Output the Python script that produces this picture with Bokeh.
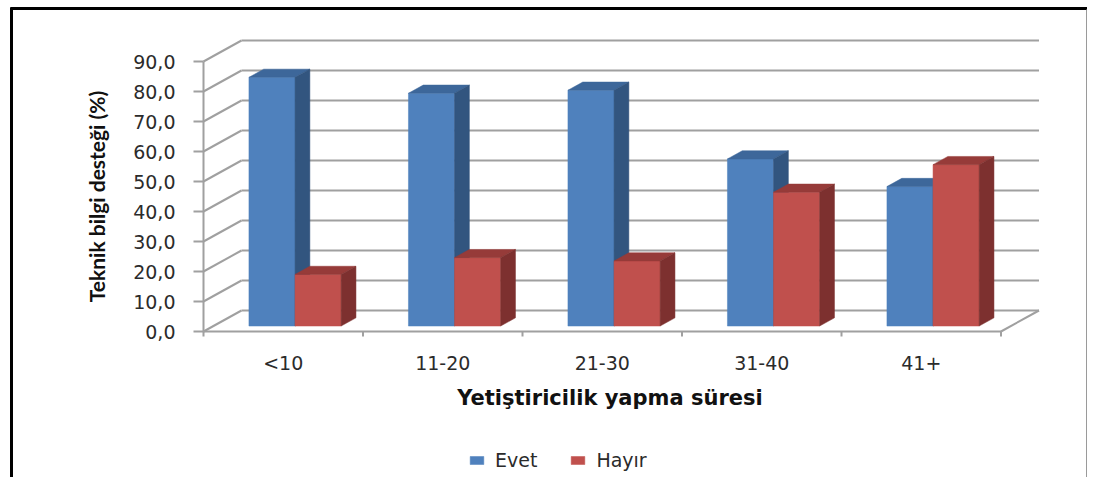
import math
from bokeh.plotting import figure
from bokeh.models import Legend, LegendItem, Range1d
from bokeh.core.properties import value
from bokeh.embed import file_html
from bokeh.resources import INLINE

# ---------------- data ----------------
categories = ["<10", "11-20", "21-30", "31-40", "41+"]
series_names = ["Evet", "Hayır"]
evet = [82.9, 77.6, 78.6, 55.7, 46.5]
hayir = [17.2, 22.8, 21.7, 44.6, 53.8]
y_ticks = [0, 10, 20, 30, 40, 50, 60, 70, 80, 90]
y_tick_labels = ["0,0", "10,0", "20,0", "30,0", "40,0", "50,0", "60,0", "70,0", "80,0", "90,0"]
x_title = "Yetiştiricilik yapma süresi"
y_title = "Teknik bilgi desteği (%)"

# ---------------- geometry / styling ----------------
CW, CH = 1087, 477       # canvas size
OX, OY = 203, 331        # canvas pixel of (x=0, value=0)
XPX = 159.5              # px per category unit
YPX = 3.0                # px per value unit
DX = 38 / XPX            # wall depth (x units)
DY = 21 / YPX            # wall depth (value units)
Z0 = 0.26                # depth fraction of bar front face
BD = 0.39                # bar depth fraction
G = 0.223                # gap before first bar (category units)
W = 0.289                # bar width (category units)


def px2x(cx):
    return (cx - OX) / XPX


def py2y(cy):
    return (OY - cy) / YPX


front_cols = ["#4F81BD", "#C0504D"]
top_cols = ["#3D679A", "#963B39"]
side_cols = ["#32557F", "#7D302F"]
grid_col = "#A0A0A0"
text_col = "#2b2b2b"

p = figure(width=CW, height=CH, output_backend="svg", toolbar_location=None,
           x_range=Range1d(px2x(0), px2x(CW)), y_range=Range1d(py2y(CH), py2y(0)),
           min_border=0)
p.axis.visible = False
p.grid.visible = False
p.outline_line_color = None
p.background_fill_color = "white"
p.border_fill_color = "white"

ncat = len(categories)
xmax_back = ncat + DX

# chart border
p.line([px2x(11), px2x(11)], [py2y(7), py2y(CH)], line_color="black", line_width=3)
p.line([px2x(10), px2x(CW)], [py2y(8), py2y(8)], line_color="black", line_width=3)
p.line([px2x(CW - 1), px2x(CW - 1)], [py2y(9), py2y(CH)], line_color="#9a9a9a", line_width=1)

# back wall gridlines
p.multi_line(xs=[[DX, xmax_back] for _ in y_ticks], ys=[[t + DY, t + DY] for t in y_ticks],
             line_color=grid_col, line_width=2)
# left wall diagonals
p.multi_line(xs=[[0, DX] for _ in y_ticks], ys=[[t, t + DY] for t in y_ticks],
             line_color=grid_col, line_width=2)
# front value axis + its ticks
p.line([0, 0], [y_ticks[0], y_ticks[-1]], line_color=grid_col, line_width=2)
p.multi_line(xs=[[-10 / XPX, 0] for _ in y_ticks], ys=[[t, t] for t in y_ticks],
             line_color=grid_col, line_width=2)
# floor: front edge and right diagonal
p.multi_line(xs=[[0, ncat], [ncat, xmax_back]], ys=[[0, 0], [0, DY]],
             line_color=grid_col, line_width=2)
# floor ticks at category boundaries
p.multi_line(xs=[[i, i] for i in range(ncat + 1)], ys=[[0, -5 / YPX] for _ in range(ncat + 1)],
             line_color=grid_col, line_width=2)

# 3D bars
legend_items = []
for k, vals in enumerate([evet, hayir]):
    fx, fy, tx, ty, sx, sy = [], [], [], [], [], []
    bdx, bdy = BD * DX, BD * DY
    for i, v in enumerate(vals):
        xl = i + G + k * W + Z0 * DX
        yb = Z0 * DY
        fx.append([xl, xl + W, xl + W, xl])
        fy.append([yb, yb, yb + v, yb + v])
        tx.append([xl, xl + W, xl + W + bdx, xl + bdx])
        ty.append([yb + v, yb + v, yb + v + bdy, yb + v + bdy])
        sx.append([xl + W, xl + W + bdx, xl + W + bdx, xl + W])
        sy.append([yb, yb + bdy, yb + v + bdy, yb + v])
    rf = p.patches(fx, fy, fill_color=front_cols[k], line_color=front_cols[k], line_width=0.5)
    p.patches(tx, ty, fill_color=top_cols[k], line_color=top_cols[k], line_width=0.5)
    p.patches(sx, sy, fill_color=side_cols[k], line_color=side_cols[k], line_width=0.5)
    legend_items.append(LegendItem(label=series_names[k], renderers=[rf]))

# value tick labels
p.text(x=[px2x(175)] * len(y_ticks), y=y_ticks, text=y_tick_labels,
       text_font=value("DejaVu Sans"), text_font_size="19px", text_color=text_col,
       text_align="right", text_baseline="middle")
# value axis title
p.text(x=[px2x(96)], y=[(y_ticks[0] + y_ticks[-1]) / 2], text=[y_title], angle=math.pi / 2,
       text_font=value("Lato"), text_font_style="bold", text_font_size="21px",
       text_color="#111111", text_align="center", text_baseline="middle")
# category labels
p.text(x=[i + 0.5 for i in range(ncat)], y=[py2y(362)] * ncat, text=categories,
       text_font=value("DejaVu Sans"), text_font_size="19px", text_color=text_col,
       text_align="center", text_baseline="middle")
# category axis title
p.text(x=[px2x(609.5)], y=[py2y(397)], text=[x_title],
       text_font=value("DejaVu Sans"), text_font_style="bold", text_font_size="21px",
       text_color="#111111", text_align="center", text_baseline="middle")

legend = Legend(items=legend_items, orientation="horizontal", location=(468, 6),
                glyph_width=17, glyph_height=10, label_standoff=10, spacing=32,
                padding=0, margin=0, border_line_color=None, background_fill_alpha=0,
                label_text_font="DejaVu Sans", label_text_font_size="19px",
                label_text_color=text_col)
p.add_layout(legend, "center")

open("out.html", "w").write(file_html(p, INLINE))
